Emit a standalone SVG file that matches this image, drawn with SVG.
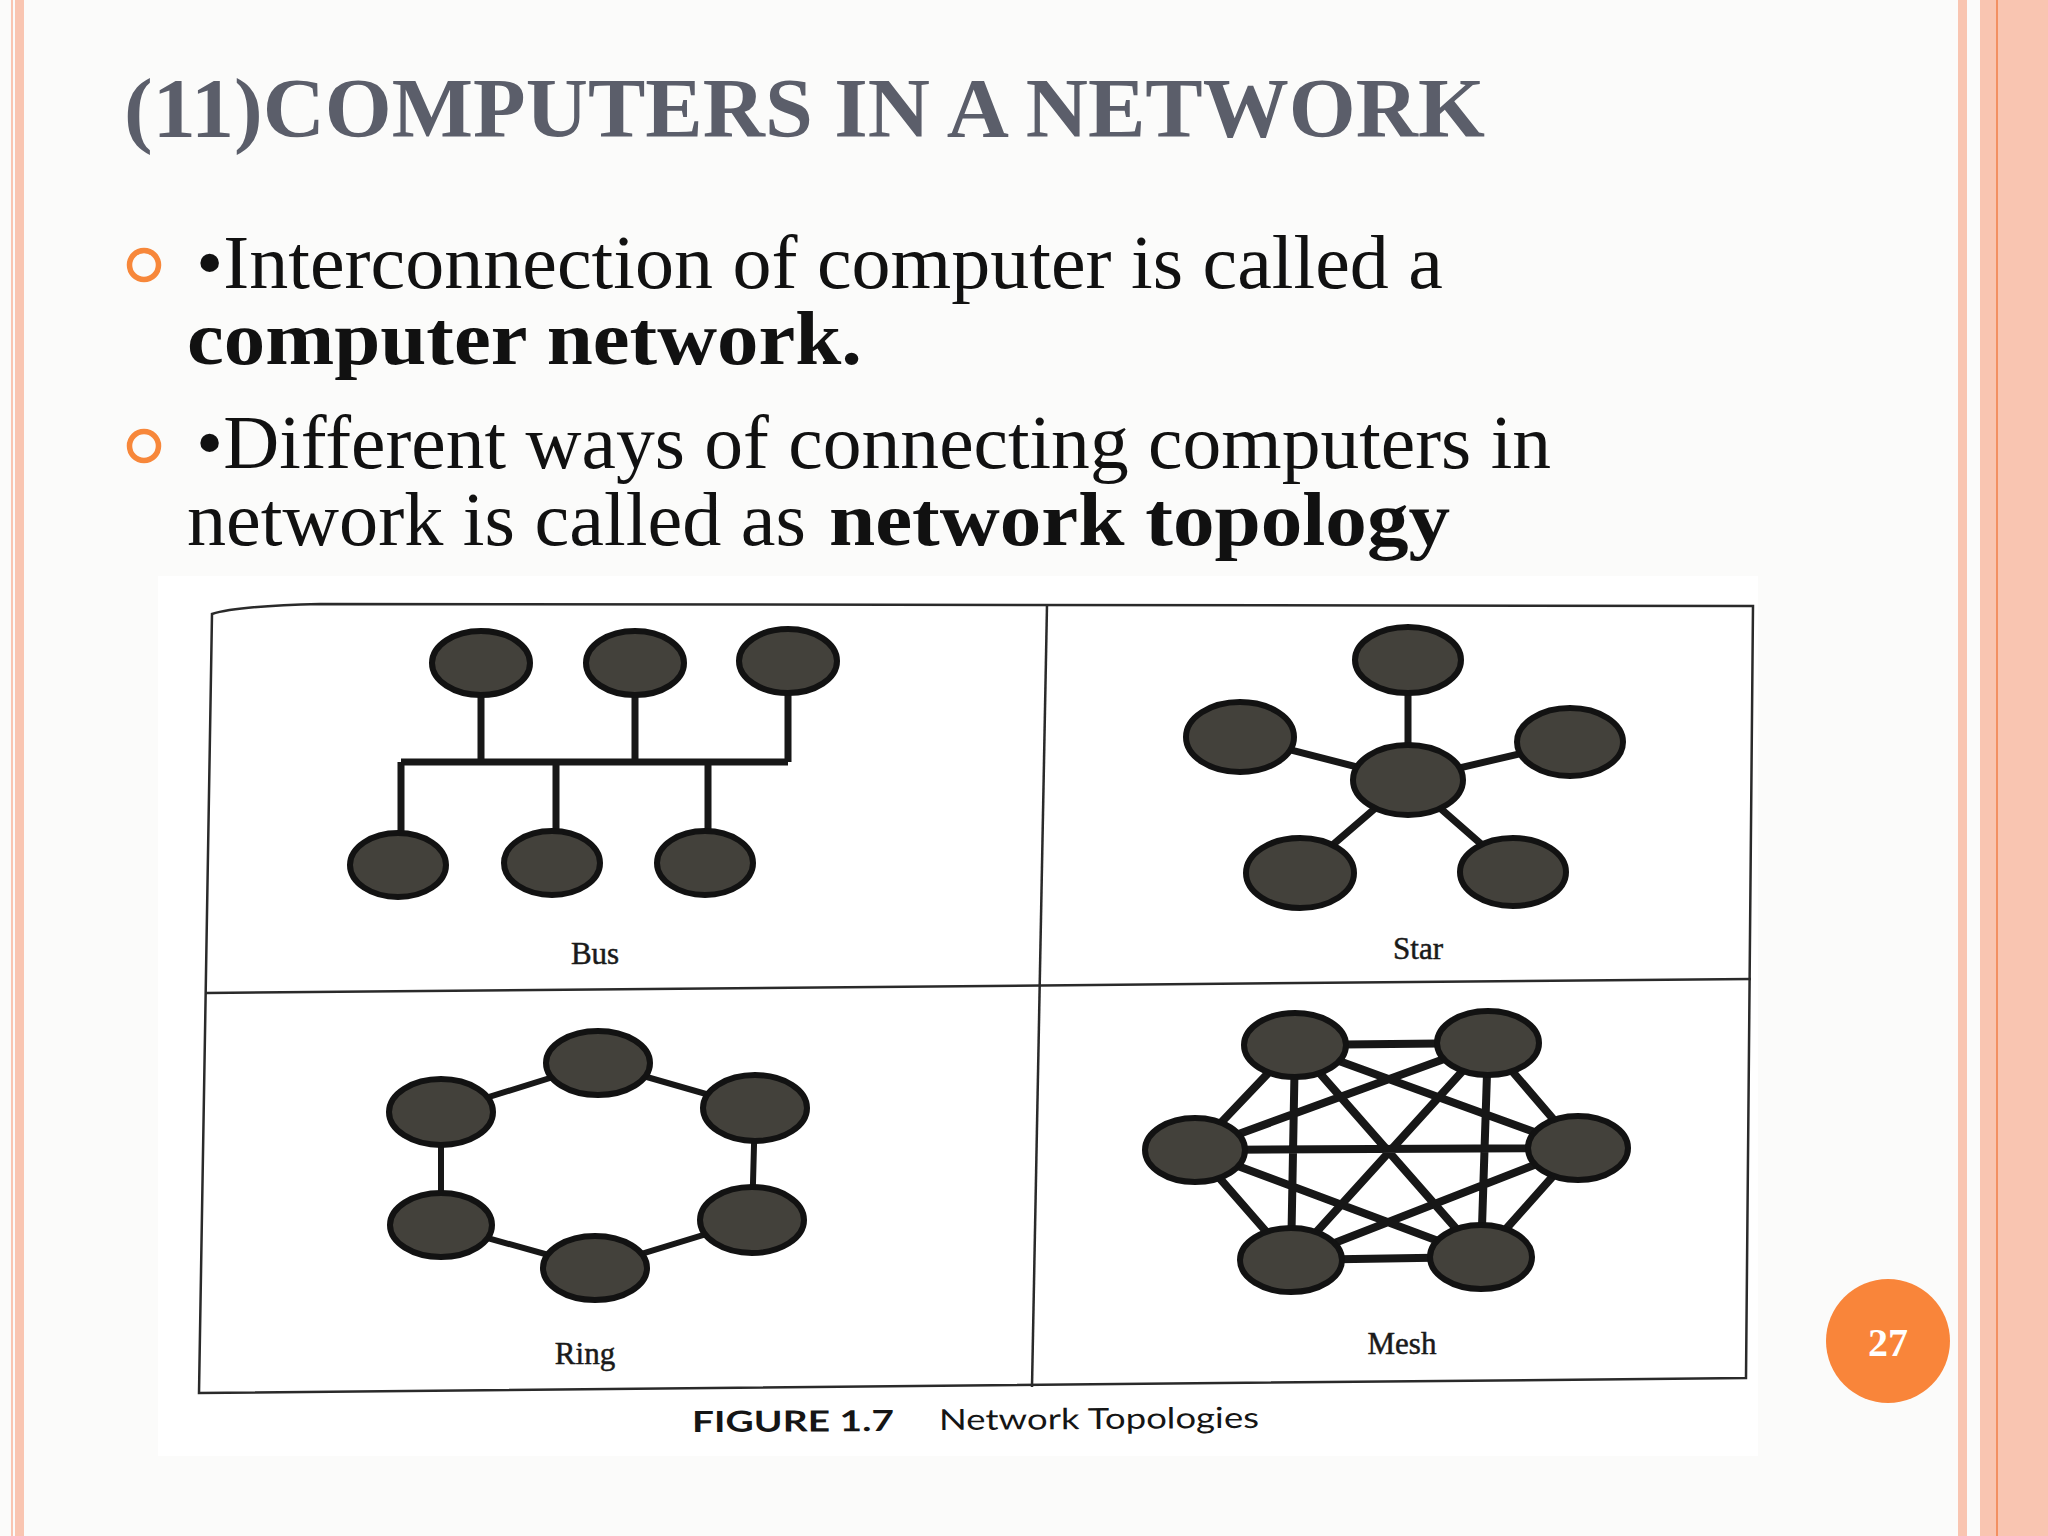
<svg xmlns="http://www.w3.org/2000/svg" width="2048" height="1536" viewBox="0 0 2048 1536">
<defs>
<style>
.title{font-family:"Liberation Serif","DejaVu Serif",serif;font-weight:bold;font-size:85px;fill:#5B5E6A}
.body{font-family:"Liberation Serif","DejaVu Serif",serif;font-size:76px;fill:#111}
.bold{font-weight:bold}
.bullet{fill:none;stroke:#F7873A;stroke-width:5.5}
.stripe{fill:#F9C5B1}
.frame{fill:none;stroke:#2a2a2a;stroke-width:2.5}
.node{fill:#43413b;stroke:#121212;stroke-width:6}
.edge{stroke:#171717;stroke-linecap:butt;fill:none}
.bus{stroke-width:7}
.star{stroke-width:7}
.ring{stroke-width:6}
.mesh{stroke-width:8}
.lbl{font-family:"Liberation Serif","DejaVu Serif",serif;font-size:31px;fill:#1a1a1a;stroke:#1a1a1a;stroke-width:0.5;text-anchor:middle}
.cap{font-family:Lato,"Open Sans","Liberation Sans",sans-serif;font-size:29px;fill:#151515}
</style>
</defs>
<rect x="0" y="0" width="2048" height="1536" fill="#FBFBFA"/>
<!-- side stripes -->
<rect class="stripe" x="11" y="0" width="2" height="1536"/>
<rect class="stripe" x="15" y="0" width="9" height="1536"/>
<rect class="stripe" x="1958" y="0" width="9" height="1536"/>
<rect class="stripe" x="1980" y="0" width="68" height="1536"/>
<rect x="1996" y="0" width="2" height="1536" fill="#F39062"/>
<!-- title -->
<text class="title" x="124" y="137" textLength="1361" lengthAdjust="spacingAndGlyphs">(11)COMPUTERS IN A NETWORK</text>
<!-- bullets -->
<circle class="bullet" cx="144" cy="265" r="14.5"/>
<circle class="bullet" cx="144" cy="446" r="14.5"/>
<text class="body" x="196" y="288" textLength="1247" lengthAdjust="spacingAndGlyphs">•Interconnection of computer is called a</text>
<text class="body bold" x="187" y="364" textLength="675" lengthAdjust="spacingAndGlyphs">computer network.</text>
<text class="body" x="196" y="468" textLength="1355" lengthAdjust="spacingAndGlyphs">•Different ways of connecting computers in</text>
<text class="body" x="187" y="545" textLength="619" lengthAdjust="spacingAndGlyphs">network is called as</text>
<text class="body bold" x="829" y="545" textLength="621" lengthAdjust="spacingAndGlyphs">network topology</text>
<!-- figure background -->
<rect x="158" y="576" width="1600" height="880" fill="#FFFFFF"/>
<!-- frame -->
<g id="frame">
<path class="frame" d="M212 614 Q236 606 320 604 L1753 606 L1746 1378 L199 1393 Z"/>
<path class="frame" d="M1047 605 L1032 1387"/>
<path class="frame" d="M206 993 L1751 979"/>
</g>
<!-- connectors -->
<g id="connectors">
<path class="edge bus" d="M481 690 V762 M635 690 V762 M788 690 V762 M401 762 H788 M401 762 V836 M556 762 V834 M708 762 V834"/>
<path class="edge star" d="M1408 780 L1408 660 M1408 780 L1240 737 M1408 780 L1570 742 M1408 780 L1300 873 M1408 780 L1513 872"/>
<path class="edge ring" d="M598 1063 L441 1112 L441 1225 L595 1268 L752 1220 L755 1108 Z"/>
<path class="edge mesh" d="M1295 1045 L1488 1043 M1295 1045 L1195 1150 M1295 1045 L1578 1148 M1295 1045 L1291 1260 M1295 1045 L1481 1257 M1488 1043 L1195 1150 M1488 1043 L1578 1148 M1488 1043 L1291 1260 M1488 1043 L1481 1257 M1195 1150 L1578 1148 M1195 1150 L1291 1260 M1195 1150 L1481 1257 M1578 1148 L1291 1260 M1578 1148 L1481 1257 M1291 1260 L1481 1257"/>
</g>
<g id="bus-nodes">
<ellipse id="bus1" class="node" cx="481" cy="663" rx="49" ry="32"/>
<ellipse id="bus2" class="node" cx="635" cy="663" rx="49" ry="32"/>
<ellipse id="bus3" class="node" cx="788" cy="661" rx="49" ry="32"/>
<ellipse id="bus4" class="node" cx="398" cy="865" rx="48" ry="32"/>
<ellipse id="bus5" class="node" cx="552" cy="863" rx="48" ry="32"/>
<ellipse id="bus6" class="node" cx="705" cy="863" rx="48" ry="32"/>
</g>
<g id="star-nodes">
<ellipse id="star-top" class="node" cx="1408" cy="660" rx="53" ry="33"/>
<ellipse id="star-left" class="node" cx="1240" cy="737" rx="54" ry="35"/>
<ellipse id="star-right" class="node" cx="1570" cy="742" rx="53" ry="34"/>
<ellipse id="star-center" class="node" cx="1408" cy="780" rx="55" ry="35"/>
<ellipse id="star-bl" class="node" cx="1300" cy="873" rx="54" ry="35"/>
<ellipse id="star-br" class="node" cx="1513" cy="872" rx="53" ry="34"/>
</g>
<g id="ring-nodes">
<ellipse id="ring-top" class="node" cx="598" cy="1063" rx="52" ry="32"/>
<ellipse id="ring-ul" class="node" cx="441" cy="1112" rx="52" ry="33"/>
<ellipse id="ring-ur" class="node" cx="755" cy="1108" rx="52" ry="33"/>
<ellipse id="ring-ll" class="node" cx="441" cy="1225" rx="51" ry="32"/>
<ellipse id="ring-lr" class="node" cx="752" cy="1220" rx="52" ry="33"/>
<ellipse id="ring-bottom" class="node" cx="595" cy="1268" rx="52" ry="32"/>
</g>
<g id="mesh-nodes">
<ellipse id="mesh-tl" class="node" cx="1295" cy="1045" rx="51" ry="32"/>
<ellipse id="mesh-tr" class="node" cx="1488" cy="1043" rx="51" ry="32"/>
<ellipse id="mesh-l" class="node" cx="1195" cy="1150" rx="50" ry="32"/>
<ellipse id="mesh-r" class="node" cx="1578" cy="1148" rx="50" ry="32"/>
<ellipse id="mesh-bl" class="node" cx="1291" cy="1260" rx="51" ry="32"/>
<ellipse id="mesh-br" class="node" cx="1481" cy="1257" rx="51" ry="32"/>
</g>
<!-- labels -->
<text class="lbl" x="595" y="964">Bus</text>
<text class="lbl" x="1418" y="959">Star</text>
<text class="lbl" x="585" y="1364">Ring</text>
<text class="lbl" x="1402" y="1354">Mesh</text>
<!-- caption -->
<text class="cap" x="692" y="1432" font-weight="bold" textLength="202" lengthAdjust="spacingAndGlyphs" transform="rotate(-0.3 692 1432)">FIGURE 1.7</text>
<text class="cap" x="939" y="1430" textLength="320" lengthAdjust="spacingAndGlyphs" transform="rotate(-0.4 939 1430)">Network Topologies</text>
<!-- page number -->
<g id="page-number">
<circle cx="1888" cy="1341" r="62" fill="#F9853A"/>
<text x="1888" y="1356" text-anchor="middle" font-family="'Liberation Serif','DejaVu Serif',serif" font-weight="bold" font-size="40" fill="#FFFFFF">27</text>
</g>
</svg>
